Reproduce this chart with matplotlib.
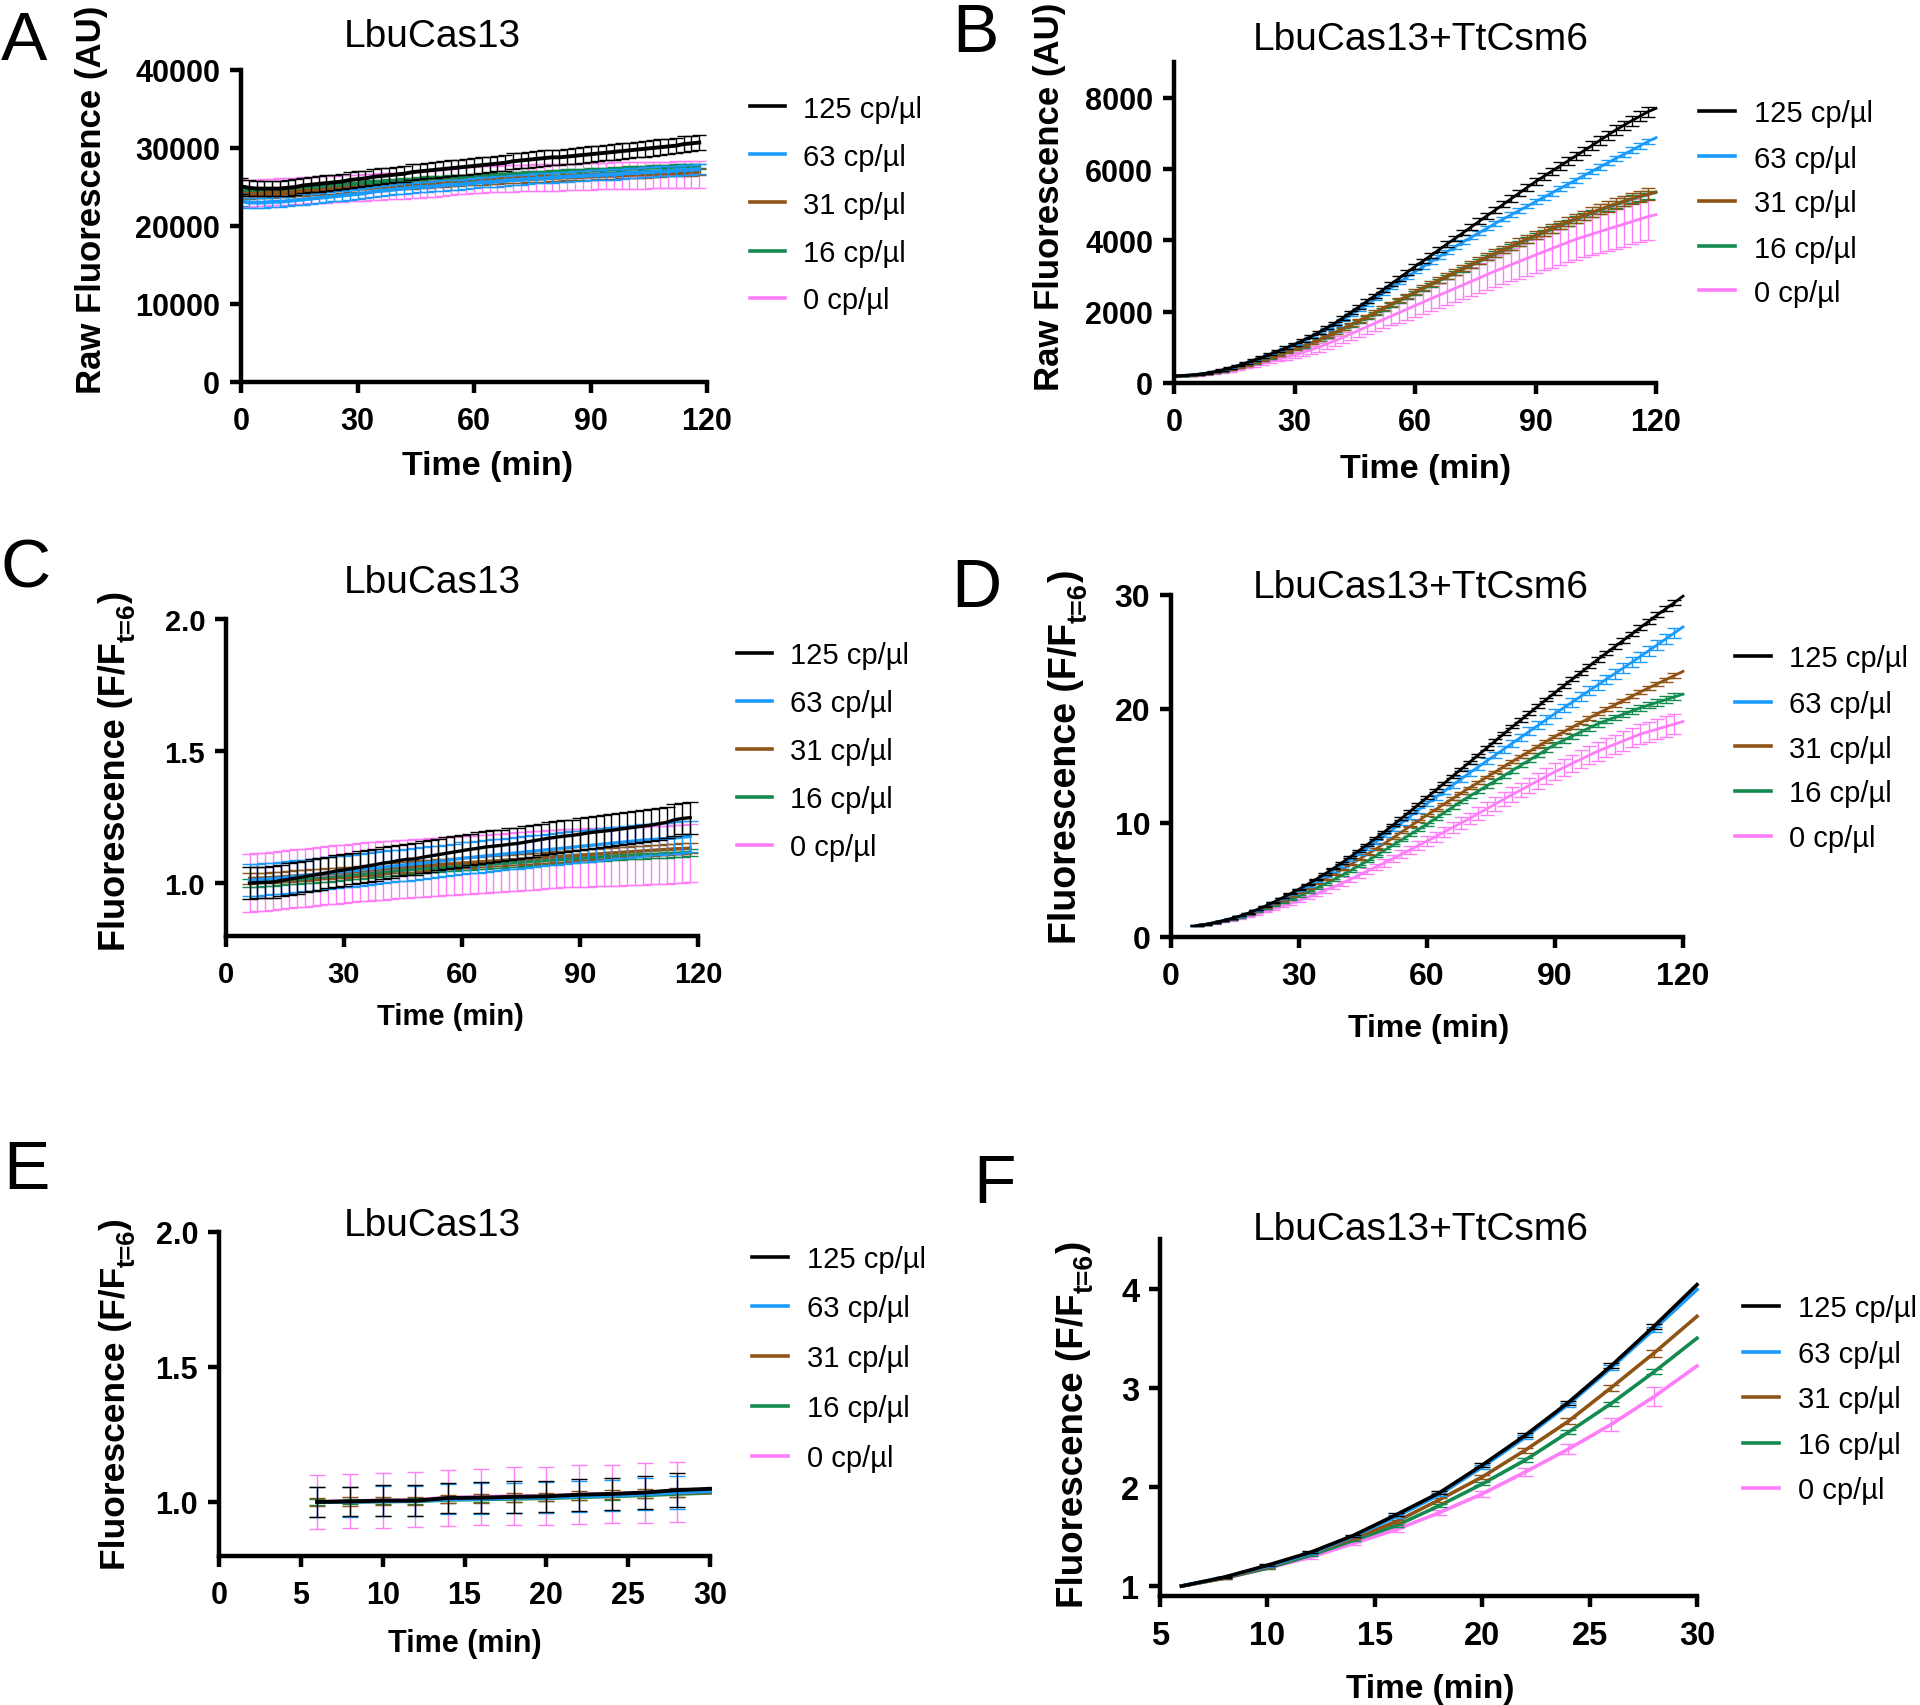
import numpy as np
import matplotlib
matplotlib.use('Agg')
from matplotlib import pyplot as plt
from matplotlib.lines import Line2D

# ---------------- data ----------------
labels = ['125 cp/µl', '63 cp/µl', '31 cp/µl', '16 cp/µl', '0 cp/µl']
colors = ['#000000', '#1A9BFC', '#8F5415', '#138A4F', '#FF7DF8']

# panel A: LbuCas13, raw fluorescence, every 2 min from 0 to 118
time_a = np.arange(0, 119, 2)
a_125 = [25100, 24900, 24800, 24800, 24800, 24800, 24900, 25000, 25200, 25300,
         25400, 25500, 25600, 25700, 25900, 26000, 26100, 26300, 26400, 26500,
         26600, 26700, 26900, 27000, 27100, 27200, 27300, 27400, 27500, 27600,
         27700, 27800, 27900, 28000, 28100, 28300, 28400, 28500, 28600, 28700,
         28800, 28800, 28900, 29000, 29100, 29200, 29300, 29400, 29500, 29600,
         29700, 29800, 29900, 30000, 30100, 30200, 30300, 30500, 30600, 30700]
a_63 = [23200, 23000, 23000, 23000, 23100, 23100, 23200, 23300, 23400, 23500,
        23600, 23700, 23800, 23900, 24000, 24100, 24200, 24400, 24500, 24600,
        24700, 24800, 24900, 25000, 25000, 25100, 25200, 25300, 25300, 25400,
        25500, 25600, 25600, 25700, 25800, 25900, 25900, 26000, 26100, 26100,
        26200, 26300, 26300, 26400, 26400, 26500, 26500, 26600, 26600, 26700,
        26800, 26800, 26900, 26900, 27000, 27000, 27100, 27200, 27200, 27300]
a_31 = [23900, 23900, 23950, 24000, 24050, 24100, 24150, 24200, 24300, 24350,
        24400, 24500, 24550, 24600, 24700, 24750, 24800, 24900, 24950, 25000,
        25100, 25150, 25200, 25250, 25300, 25400, 25450, 25500, 25550, 25600,
        25650, 25700, 25750, 25800, 25850, 25900, 25950, 26000, 26050, 26100,
        26150, 26200, 26250, 26250, 26300, 26350, 26400, 26450, 26450, 26500,
        26550, 26600, 26600, 26650, 26700, 26750, 26750, 26800, 26850, 26900]
a_16 = [24400, 24400, 24450, 24500, 24550, 24600, 24700, 24750, 24850, 24900,
        25000, 25100, 25150, 25250, 25300, 25400, 25450, 25550, 25600, 25700,
        25750, 25850, 25900, 26000, 26050, 26100, 26150, 26200, 26250, 26300,
        26350, 26400, 26450, 26500, 26550, 26600, 26650, 26700, 26750, 26800,
        26850, 26900, 26950, 27000, 27050, 27100, 27150, 27200, 27250, 27300,
        27350, 27400, 27450, 27500, 27500, 27550, 27600, 27600, 27650, 27700]
a_0 = [24200, 24200, 24250, 24300, 24350, 24400, 24450, 24500, 24550, 24600,
       24650, 24700, 24750, 24800, 24850, 24900, 24950, 25000, 25050, 25100,
       25150, 25200, 25250, 25350, 25400, 25450, 25550, 25650, 25750, 25850,
       25900, 25950, 26000, 26050, 26100, 26100, 26150, 26150, 26200, 26200,
       26250, 26250, 26300, 26300, 26350, 26350, 26400, 26400, 26450, 26450,
       26500, 26500, 26500, 26550, 26550, 26550, 26600, 26600, 26600, 26600]
a_err = [1000, 650, 400, 300, 1700]

# panel B: LbuCas13+TtCsm6, raw fluorescence, every 2 min from 0 to 120
time_b = np.arange(0, 121, 2)
b_125 = [200, 210, 225, 245, 275, 315, 365, 425, 490, 565,
         645, 720, 810, 900, 990, 1085, 1190, 1300, 1420, 1545,
         1675, 1825, 1980, 2130, 2290, 2450, 2610, 2770, 2935, 3100,
         3265, 3420, 3580, 3740, 3900, 4055, 4215, 4375, 4535, 4695,
         4850, 5010, 5170, 5330, 5490, 5645, 5790, 5935, 6080, 6220,
         6365, 6510, 6655, 6800, 6945, 7095, 7225, 7355, 7480, 7605,
         7700]
b_63 = [200, 210, 225, 245, 275, 315, 360, 420, 485, 560,
        640, 715, 800, 885, 975, 1070, 1170, 1275, 1385, 1505,
        1630, 1770, 1910, 2055, 2205, 2355, 2510, 2665, 2820, 2970,
        3120, 3260, 3400, 3540, 3680, 3820, 3955, 4085, 4215, 4345,
        4475, 4600, 4720, 4840, 4960, 5085, 5205, 5325, 5450, 5570,
        5690, 5815, 5935, 6055, 6175, 6300, 6410, 6530, 6650, 6770,
        6880]
b_31 = [190, 200, 215, 235, 260, 295, 335, 380, 435, 500,
        570, 640, 715, 790, 870, 950, 1035, 1125, 1220, 1320,
        1420, 1530, 1640, 1750, 1865, 1980, 2095, 2210, 2325, 2440,
        2555, 2670, 2785, 2895, 3005, 3115, 3225, 3330, 3435, 3540,
        3645, 3745, 3845, 3945, 4045, 4145, 4240, 4335, 4430, 4520,
        4610, 4700, 4785, 4870, 4950, 5030, 5100, 5170, 5240, 5300,
        5360]
b_16 = [190, 200, 214, 233, 257, 290, 330, 374, 428, 492,
        560, 630, 704, 778, 856, 936, 1020, 1108, 1202, 1300,
        1400, 1508, 1617, 1726, 1840, 1954, 2068, 2182, 2296, 2410,
        2524, 2638, 2752, 2862, 2972, 3082, 3192, 3298, 3404, 3510,
        3615, 3715, 3815, 3915, 4015, 4115, 4210, 4305, 4400, 4490,
        4580, 4670, 4755, 4840, 4920, 5000, 5075, 5150, 5220, 5280,
        5340]
b_0 = [185, 195, 205, 220, 245, 275, 310, 350, 395, 450,
       505, 560, 615, 670, 725, 785, 855, 925, 1000, 1090,
       1180, 1275, 1375, 1475, 1575, 1675, 1775, 1875, 1970, 2070,
       2170, 2265, 2365, 2460, 2560, 2655, 2750, 2850, 2945, 3045,
       3140, 3230, 3320, 3410, 3500, 3590, 3680, 3765, 3855, 3940,
       4030, 4100, 4170, 4245, 4315, 4385, 4455, 4525, 4595, 4665,
       4720]
b_125_err = [10, 10, 10, 12, 14, 16, 18, 20, 22, 24,
             26, 28, 30, 32, 34, 36, 38, 40, 42, 44,
             46, 48, 50, 52, 54, 56, 58, 60, 62, 64,
             66, 68, 70, 72, 74, 76, 78, 80, 82, 84,
             86, 88, 90, 92, 95, 98, 101, 104, 107, 110,
             113, 116, 119, 122, 126, 130, 134, 138, 142, 146,
             0]
b_63_err = [5, 5, 5, 6, 6, 7, 8, 9, 10, 11,
            12, 13, 14, 15, 16, 18, 20, 22, 24, 26,
            28, 30, 32, 34, 36, 38, 40, 42, 44, 46,
            48, 50, 52, 54, 55, 56, 57, 58, 59, 60,
            61, 62, 63, 64, 65, 66, 67, 68, 69, 70,
            71, 72, 73, 74, 75, 76, 77, 78, 79, 80,
            0]
b_31_err = [5, 5, 6, 7, 8, 9, 10, 12, 14, 16,
            18, 20, 22, 24, 26, 28, 30, 33, 36, 39,
            42, 45, 48, 51, 54, 57, 60, 63, 66, 69,
            72, 75, 78, 81, 84, 87, 90, 93, 96, 99,
            102, 105, 108, 111, 114, 117, 120, 123, 126, 129,
            132, 135, 138, 141, 144, 147, 150, 153, 156, 159,
            0]
b_16_err = [5, 5, 5, 6, 7, 8, 9, 10, 11, 12,
            14, 16, 18, 20, 22, 24, 26, 28, 30, 32,
            34, 36, 38, 40, 42, 44, 46, 48, 50, 52,
            54, 56, 58, 60, 62, 64, 66, 68, 70, 72,
            74, 76, 78, 80, 82, 84, 86, 88, 90, 92,
            94, 96, 98, 100, 102, 104, 106, 108, 110, 112,
            0]
b_0_err = [10, 10, 12, 14, 16, 20, 24, 28, 34, 40,
           46, 52, 58, 66, 74, 82, 92, 104, 118, 134,
           150, 166, 182, 198, 214, 230, 246, 262, 278, 294,
           310, 324, 338, 352, 366, 380, 394, 408, 422, 436,
           450, 462, 474, 486, 498, 510, 522, 534, 546, 558,
           570, 580, 590, 600, 610, 620, 628, 636, 644, 650,
           0]

# panel C: LbuCas13, normalised to t=6, every 2 min from 6 to 118
time_c = np.arange(6, 119, 2)
c_125 = [1.000, 1.002, 1.003, 1.004, 1.010, 1.015, 1.020, 1.025, 1.030, 1.035,
         1.040, 1.046, 1.050, 1.055, 1.060, 1.065, 1.070, 1.076, 1.080, 1.086,
         1.090, 1.092, 1.098, 1.103, 1.108, 1.113, 1.118, 1.123, 1.128, 1.132,
         1.137, 1.140, 1.143, 1.147, 1.150, 1.155, 1.160, 1.165, 1.170, 1.174,
         1.178, 1.181, 1.185, 1.190, 1.194, 1.197, 1.200, 1.204, 1.208, 1.212,
         1.216, 1.220, 1.225, 1.230, 1.240, 1.245, 1.248]
c_63 = [1.012, 1.013, 1.015, 1.018, 1.020, 1.023, 1.026, 1.029, 1.032, 1.035,
        1.038, 1.041, 1.044, 1.047, 1.050, 1.054, 1.057, 1.060, 1.064, 1.067,
        1.070, 1.073, 1.076, 1.079, 1.082, 1.086, 1.090, 1.094, 1.097, 1.100,
        1.103, 1.106, 1.109, 1.112, 1.115, 1.118, 1.121, 1.124, 1.127, 1.130,
        1.133, 1.136, 1.139, 1.142, 1.145, 1.148, 1.151, 1.154, 1.157, 1.160,
        1.163, 1.165, 1.167, 1.169, 1.171, 1.174, 1.177]
c_31 = [1.018, 1.019, 1.020, 1.022, 1.024, 1.026, 1.028, 1.030, 1.032, 1.034,
        1.036, 1.038, 1.040, 1.043, 1.046, 1.049, 1.052, 1.055, 1.058, 1.060,
        1.062, 1.064, 1.066, 1.068, 1.070, 1.072, 1.074, 1.076, 1.078, 1.080,
        1.082, 1.084, 1.086, 1.088, 1.090, 1.092, 1.094, 1.096, 1.098, 1.100,
        1.102, 1.104, 1.106, 1.108, 1.110, 1.112, 1.114, 1.116, 1.118, 1.120,
        1.122, 1.124, 1.126, 1.128, 1.130, 1.131, 1.133]
c_16 = [1.000, 1.002, 1.004, 1.006, 1.008, 1.010, 1.012, 1.014, 1.016, 1.018,
        1.020, 1.023, 1.026, 1.029, 1.032, 1.035, 1.038, 1.041, 1.044, 1.047,
        1.050, 1.052, 1.054, 1.056, 1.058, 1.060, 1.062, 1.064, 1.066, 1.068,
        1.070, 1.072, 1.074, 1.076, 1.078, 1.080, 1.082, 1.084, 1.086, 1.088,
        1.090, 1.092, 1.094, 1.096, 1.098, 1.100, 1.102, 1.104, 1.106, 1.107,
        1.108, 1.109, 1.110, 1.112, 1.113, 1.115, 1.116]
c_0 = [1.000, 1.003, 1.006, 1.009, 1.012, 1.015, 1.018, 1.021, 1.024, 1.027,
       1.030, 1.033, 1.036, 1.039, 1.042, 1.044, 1.046, 1.048, 1.050, 1.052,
       1.054, 1.056, 1.058, 1.060, 1.062, 1.064, 1.066, 1.068, 1.070, 1.072,
       1.074, 1.076, 1.078, 1.080, 1.082, 1.084, 1.086, 1.088, 1.090, 1.092,
       1.094, 1.095, 1.096, 1.097, 1.098, 1.099, 1.100, 1.101, 1.102, 1.103,
       1.104, 1.105, 1.106, 1.108, 1.110, 1.111, 1.113]
c_err = [0.06, 0.06, 0.02, 0.015, 0.11]

# panel D: LbuCas13+TtCsm6, normalised to t=6, every 2 min from 6 to 120
time_d = np.arange(6, 121, 2)
d_125 = [1.00, 1.10, 1.25, 1.42, 1.60, 1.82, 2.08, 2.38, 2.70, 3.05,
         3.42, 3.80, 4.20, 4.62, 5.06, 5.52, 6.00, 6.50, 7.02, 7.56,
         8.10, 8.66, 9.22, 9.80, 10.40, 11.00, 11.62, 12.24, 12.86, 13.48,
         14.10, 14.72, 15.34, 15.96, 16.58, 17.20, 17.82, 18.44, 19.04, 19.64,
         20.24, 20.84, 21.44, 22.02, 22.60, 23.18, 23.76, 24.34, 24.90, 25.46,
         26.02, 26.58, 27.14, 27.70, 28.26, 28.80, 29.34, 29.90]
d_63 = [1.00, 1.10, 1.25, 1.42, 1.60, 1.82, 2.07, 2.36, 2.67, 3.00,
        3.35, 3.72, 4.10, 4.50, 4.92, 5.36, 5.82, 6.30, 6.80, 7.30,
        7.82, 8.35, 8.90, 9.45, 10.01, 10.57, 11.13, 11.70, 12.24, 12.78,
        13.32, 13.86, 14.40, 14.92, 15.44, 15.96, 16.48, 17.00, 17.52, 18.04,
        18.56, 19.08, 19.60, 20.10, 20.60, 21.10, 21.60, 22.10, 22.60, 23.10,
        23.60, 24.10, 24.60, 25.12, 25.64, 26.16, 26.68, 27.20]
d_31 = [1.00, 1.10, 1.24, 1.40, 1.58, 1.78, 2.02, 2.30, 2.60, 2.90,
        3.22, 3.56, 3.90, 4.28, 4.68, 5.08, 5.48, 5.90, 6.34, 6.80,
        7.26, 7.72, 8.20, 8.70, 9.20, 9.70, 10.20, 10.70, 11.18, 11.66,
        12.14, 12.62, 13.10, 13.56, 14.02, 14.48, 14.94, 15.40, 15.84, 16.28,
        16.72, 17.16, 17.60, 18.00, 18.40, 18.80, 19.20, 19.60, 19.98, 20.36,
        20.74, 21.12, 21.50, 21.86, 22.22, 22.58, 22.94, 23.30]
d_16 = [1.00, 1.10, 1.23, 1.38, 1.55, 1.74, 1.96, 2.20, 2.46, 2.74,
        3.02, 3.30, 3.60, 3.94, 4.28, 4.64, 5.02, 5.40, 5.82, 6.24,
        6.66, 7.12, 7.60, 8.06, 8.52, 8.98, 9.44, 9.90, 10.40, 10.90,
        11.40, 11.90, 12.35, 12.80, 13.25, 13.70, 14.15, 14.60, 15.06, 15.52,
        15.98, 16.44, 16.90, 17.26, 17.62, 17.98, 18.34, 18.70, 18.98, 19.26,
        19.54, 19.82, 20.10, 20.34, 20.58, 20.82, 21.06, 21.30]
d_0 = [1.00, 1.09, 1.20, 1.33, 1.48, 1.64, 1.82, 2.02, 2.24, 2.48,
       2.72, 2.96, 3.20, 3.48, 3.78, 4.08, 4.38, 4.70, 5.06, 5.42,
       5.78, 6.14, 6.50, 6.88, 7.26, 7.64, 8.02, 8.40, 8.80, 9.20,
       9.60, 10.00, 10.40, 10.82, 11.24, 11.66, 12.08, 12.50, 12.90, 13.30,
       13.70, 14.10, 14.50, 14.86, 15.22, 15.58, 15.94, 16.30, 16.60, 16.90,
       17.20, 17.50, 17.80, 18.02, 18.24, 18.46, 18.68, 18.90]
d_125_err = [0.01, 0.01, 0.01, 0.01, 0.02, 0.02, 0.02, 0.03, 0.03, 0.03,
             0.04, 0.04, 0.05, 0.05, 0.05, 0.06, 0.06, 0.07, 0.07, 0.08,
             0.08, 0.08, 0.09, 0.09, 0.10, 0.10, 0.10, 0.11, 0.11, 0.12,
             0.12, 0.12, 0.13, 0.13, 0.14, 0.14, 0.14, 0.15, 0.15, 0.16,
             0.16, 0.16, 0.17, 0.17, 0.18, 0.18, 0.18, 0.19, 0.19, 0.20,
             0.20, 0.20, 0.21, 0.21, 0.22, 0.22, 0.22, 0.00]
d_63_err = [0.01, 0.01, 0.02, 0.02, 0.03, 0.03, 0.04, 0.04, 0.05, 0.05,
            0.06, 0.06, 0.07, 0.08, 0.09, 0.10, 0.11, 0.12, 0.13, 0.14,
            0.15, 0.16, 0.17, 0.18, 0.19, 0.20, 0.21, 0.22, 0.23, 0.24,
            0.25, 0.26, 0.27, 0.28, 0.29, 0.30, 0.31, 0.32, 0.33, 0.34,
            0.35, 0.36, 0.37, 0.38, 0.39, 0.40, 0.41, 0.42, 0.42, 0.43,
            0.43, 0.44, 0.44, 0.45, 0.45, 0.46, 0.46, 0.00]
d_31_err = [0.01, 0.01, 0.01, 0.01, 0.01, 0.02, 0.02, 0.02, 0.02, 0.03,
            0.03, 0.03, 0.04, 0.04, 0.04, 0.05, 0.05, 0.05, 0.06, 0.06,
            0.06, 0.07, 0.07, 0.07, 0.08, 0.08, 0.08, 0.09, 0.09, 0.09,
            0.10, 0.10, 0.10, 0.11, 0.11, 0.11, 0.12, 0.12, 0.12, 0.13,
            0.13, 0.13, 0.14, 0.14, 0.14, 0.15, 0.15, 0.15, 0.16, 0.16,
            0.16, 0.17, 0.17, 0.17, 0.18, 0.18, 0.18, 0.00]
d_16_err = [0.01, 0.01, 0.01, 0.02, 0.02, 0.03, 0.03, 0.04, 0.04, 0.05,
            0.05, 0.06, 0.06, 0.07, 0.07, 0.08, 0.08, 0.09, 0.09, 0.10,
            0.10, 0.11, 0.11, 0.12, 0.12, 0.13, 0.13, 0.14, 0.14, 0.15,
            0.15, 0.16, 0.16, 0.17, 0.17, 0.18, 0.18, 0.19, 0.19, 0.20,
            0.20, 0.21, 0.21, 0.22, 0.22, 0.23, 0.23, 0.24, 0.24, 0.25,
            0.26, 0.27, 0.28, 0.28, 0.29, 0.29, 0.30, 0.00]
d_0_err = [0.02, 0.02, 0.03, 0.03, 0.04, 0.05, 0.06, 0.07, 0.08, 0.09,
           0.10, 0.11, 0.12, 0.14, 0.16, 0.18, 0.20, 0.22, 0.24, 0.26,
           0.28, 0.30, 0.32, 0.34, 0.36, 0.38, 0.40, 0.42, 0.44, 0.46,
           0.48, 0.50, 0.52, 0.54, 0.56, 0.58, 0.60, 0.62, 0.64, 0.66,
           0.68, 0.70, 0.72, 0.74, 0.76, 0.78, 0.80, 0.82, 0.83, 0.84,
           0.85, 0.86, 0.87, 0.88, 0.89, 0.90, 0.90, 0.00]

# panel E: LbuCas13, first 30 min
time_e = np.arange(6, 31, 2)
e_125 = [1.000, 1.002, 1.005, 1.005, 1.015, 1.016, 1.019, 1.021, 1.027, 1.030, 1.035, 1.044, 1.049]
e_63 = [1.000, 1.001, 1.003, 1.004, 1.010, 1.012, 1.015, 1.017, 1.021, 1.024, 1.029, 1.035, 1.040]
e_31 = [1.000, 1.002, 1.004, 1.004, 1.012, 1.014, 1.016, 1.019, 1.024, 1.027, 1.031, 1.034, 1.036]
e_16 = [1.000, 1.001, 1.002, 1.003, 1.008, 1.010, 1.012, 1.014, 1.018, 1.021, 1.025, 1.030, 1.034]
e_0 = [1.000, 1.003, 1.006, 1.008, 1.016, 1.018, 1.022, 1.022, 1.028, 1.030, 1.033, 1.038, 1.040]
e_125_err = [0.055, 0.055, 0.057, 0.057, 0.057, 0.058, 0.058, 0.058, 0.059, 0.059, 0.060, 0.062, 0]
e_63_err = [0.055, 0.055, 0.056, 0.056, 0.056, 0.057, 0.057, 0.057, 0.058, 0.058, 0.059, 0.060, 0]
e_31_err = [0.015, 0.015, 0.015, 0.015, 0.015, 0.016, 0.016, 0.016, 0.016, 0.017, 0.017, 0.017, 0]
e_16_err = [0.010, 0.010, 0.010, 0.010, 0.010, 0.011, 0.011, 0.011, 0.011, 0.012, 0.012, 0.012, 0]
e_0_err = [0.100, 0.100, 0.102, 0.102, 0.104, 0.104, 0.106, 0.106, 0.108, 0.108, 0.110, 0.112, 0]

# panel F: LbuCas13+TtCsm6, first 30 min
time_f = np.arange(6, 31, 2)
f_125 = [1.00, 1.09, 1.21, 1.34, 1.51, 1.72, 1.94, 2.22, 2.52, 2.85, 3.22, 3.62, 4.04]
f_63 = [1.00, 1.09, 1.20, 1.33, 1.50, 1.70, 1.92, 2.20, 2.50, 2.83, 3.20, 3.59, 3.99]
f_31 = [1.00, 1.08, 1.19, 1.33, 1.48, 1.65, 1.87, 2.10, 2.37, 2.66, 3.00, 3.35, 3.72]
f_16 = [1.00, 1.08, 1.18, 1.31, 1.46, 1.61, 1.81, 2.03, 2.27, 2.55, 2.84, 3.16, 3.50]
f_0 = [1.00, 1.08, 1.18, 1.29, 1.43, 1.57, 1.74, 1.93, 2.15, 2.38, 2.63, 2.91, 3.22]
f_125_err = [0, 0.005, 0.01, 0.01, 0.01, 0.015, 0.015, 0.02, 0.02, 0.02, 0.025, 0.025, 0]
f_63_err = [0, 0.005, 0.01, 0.01, 0.01, 0.015, 0.015, 0.02, 0.02, 0.02, 0.025, 0.025, 0]
f_31_err = [0, 0.005, 0.01, 0.01, 0.01, 0.015, 0.02, 0.02, 0.025, 0.03, 0.03, 0.035, 0]
f_16_err = [0, 0.005, 0.005, 0.01, 0.01, 0.01, 0.015, 0.015, 0.02, 0.02, 0.02, 0.025, 0]
f_0_err = [0, 0.01, 0.01, 0.015, 0.015, 0.02, 0.025, 0.03, 0.04, 0.05, 0.07, 0.095, 0]

# tick labels
xt_120 = [0, 30, 60, 90, 120]
yt_a = [0, 10000, 20000, 30000, 40000]
yt_b = [0, 2000, 4000, 6000, 8000]
yt_ce = [1.0, 1.5, 2.0]
yt_ce_lab = ['1.0', '1.5', '2.0']
yt_d = [0, 10, 20, 30]
xt_e = [0, 5, 10, 15, 20, 25, 30]
xt_f = [5, 10, 15, 20, 25, 30]
yt_f = [1, 2, 3, 4]

# ---------------- drawing ----------------
plt.rcParams['font.family'] = ['Liberation Sans', 'DejaVu Sans']

W, H = 1920, 1706
fig = plt.figure(figsize=(W / 100, H / 100), dpi=100)
renderer = fig.canvas.get_renderer()


def put(x, y, s, **kw):
    # place text using pixel coordinates measured from the top-left corner
    return fig.text(x / W, 1 - y / H, s, **kw)


def text_len(s, size):
    t = fig.text(0, 0, s, fontsize=size, fontweight='bold')
    w = t.get_window_extent(renderer).width
    t.remove()
    return w


def norm_ylabel(x_base, y_mid, size):
    # "Fluorescence (F/F" + subscript "t=6" + ")" written bottom-to-top
    parts = ['Fluorescence (F/F', 't=6', ')']
    sizes = [size, size * 0.72, size]
    shift = [0, size * 0.38, 0]
    lens = [text_len(p, s) for p, s in zip(parts, sizes)]
    y = y_mid + sum(lens) / 2
    for p, s, dx, ln in zip(parts, sizes, shift, lens):
        put(x_base + dx, y, p, fontsize=s, fontweight='bold', rotation=90,
            rotation_mode='anchor', ha='left', va='baseline')
        y -= ln


def panel(box, time, series, errs, xlim, ylim, xticks, yticks, ylabels=None,
          lw=2.4, cap=5, tick_size=22):
    left, top, right, bottom = box
    ax = fig.add_axes([left / W, 1 - bottom / H, (right - left) / W, (bottom - top) / H])
    # draw 0 cp/ul first so the 125 cp/ul curve ends up on top
    for vals, err, color in reversed(list(zip(series, errs, colors))):
        vals = np.asarray(vals, float)
        err = np.broadcast_to(np.asarray(err, float), vals.shape)
        ax.plot(time, vals, color=color, lw=lw, clip_on=False)
        has = err > 0
        ax.errorbar(time[has], vals[has], yerr=err[has], fmt='none', ecolor=color,
                    elinewidth=1.0, capsize=cap, capthick=1.0)
    ax.set_xlim(xlim)
    ax.set_ylim(ylim)
    for side in ['top', 'right']:
        ax.spines[side].set_visible(False)
    for side in ['left', 'bottom']:
        ax.spines[side].set_linewidth(3.2)
        ax.spines[side].set_capstyle('projecting')
    ax.set_xticks(xticks, labels=[str(t) for t in xticks], fontweight='bold', fontsize=tick_size)
    if ylabels is None:
        ylabels = [str(t) for t in yticks]
    ax.set_yticks(yticks, labels=ylabels, fontweight='bold', fontsize=tick_size)
    ax.tick_params(direction='out', length=8, width=3.2, pad=7)
    ax.tick_params(axis='x', pad=9)
    return ax


def legend(x0, x1, xt, rows):
    for lab, col, y in zip(labels, colors, rows):
        fig.add_artist(Line2D([x0 / W, x1 / W], [1 - y / H, 1 - y / H], color=col, lw=2.6))
        put(xt, y + 10.5, lab, fontsize=21, va='baseline', ha='left')


raw_label = 'Raw Fluorescence (AU)'

# A
panel((241, 71, 707, 383), time_a, [a_125, a_63, a_31, a_16, a_0], a_err,
      (0, 120), (0, 40000), xt_120, yt_a, lw=2.8, cap=5)
put(24, 60, 'A', fontsize=50, ha='center', va='baseline')
put(432, 47, 'LbuCas13', fontsize=28, ha='center', va='baseline')
put(92, 200, raw_label, fontsize=25, fontweight='bold', rotation=90, ha='center', va='center')
put(488, 475, 'Time (min)', fontsize=24.5, fontweight='bold', ha='center', va='baseline')
legend(750, 785, 803, [107, 155, 203, 252, 299])

# B
panel((1174, 63, 1656, 384), time_b, [b_125, b_63, b_31, b_16, b_0],
      [b_125_err, b_63_err, b_31_err, b_16_err, b_0_err],
      (0, 120), (0, 9000), xt_120, yt_b, lw=2.0, cap=5)
put(975, 52, 'B', fontsize=50, ha='center', va='baseline')
put(1421, 50, 'LbuCas13+TtCsm6', fontsize=28, ha='center', va='baseline')
put(1050, 197, raw_label, fontsize=25, fontweight='bold', rotation=90, ha='center', va='center')
put(1426, 478, 'Time (min)', fontsize=24.5, fontweight='bold', ha='center', va='baseline')
legend(1699, 1735, 1754, [112, 157, 202, 247, 291])

# C
panel((226, 620, 698, 937), time_c, [c_125, c_63, c_31, c_16, c_0], c_err,
      (0, 120), (0.8, 2.0), xt_120, yt_ce, yt_ce_lab, lw=2.4, cap=6, tick_size=21)
put(26, 587, 'C', fontsize=50, ha='center', va='baseline')
put(432, 593, 'LbuCas13', fontsize=28, ha='center', va='baseline')
norm_ylabel(125, 771, 26)
put(450, 1025, 'Time (min)', fontsize=21, fontweight='bold', ha='center', va='baseline')
legend(737, 772, 790, [654, 702, 750, 798, 846])

# D
panel((1171, 596, 1683, 938), time_d, [d_125, d_63, d_31, d_16, d_0],
      [d_125_err, d_63_err, d_31_err, d_16_err, d_0_err],
      (0, 120), (0, 30), xt_120, yt_d, lw=2.0, cap=5, tick_size=23)
put(976, 607, 'D', fontsize=50, ha='center', va='baseline')
put(1421, 598, 'LbuCas13+TtCsm6', fontsize=28, ha='center', va='baseline')
norm_ylabel(1076, 757, 27)
put(1429, 1037, 'Time (min)', fontsize=23, fontweight='bold', ha='center', va='baseline')
legend(1735, 1771, 1789, [657, 703, 747, 792, 837])

# E
panel((219, 1233, 710, 1557), time_e, [e_125, e_63, e_31, e_16, e_0],
      [e_125_err, e_63_err, e_31_err, e_16_err, e_0_err],
      (0, 30), (0.8, 2.0), xt_e, yt_ce, yt_ce_lab, lw=2.8, cap=6, tick_size=22)
put(26, 1189, 'E', fontsize=50, ha='center', va='baseline')
put(432, 1236, 'LbuCas13', fontsize=28, ha='center', va='baseline')
norm_ylabel(125, 1394, 25.5)
put(465, 1652, 'Time (min)', fontsize=22, fontweight='bold', ha='center', va='baseline')
legend(752, 788, 807, [1258, 1307, 1357, 1407, 1457])

# F
panel((1160, 1240, 1697, 1597), time_f, [f_125, f_63, f_31, f_16, f_0],
      [f_125_err, f_63_err, f_31_err, f_16_err, f_0_err],
      (5, 30), (0.9, 4.5), xt_f, yt_f, lw=2.6, cap=6, tick_size=23.5)
put(995, 1203, 'F', fontsize=50, ha='center', va='baseline')
put(1421, 1240, 'LbuCas13+TtCsm6', fontsize=28, ha='center', va='baseline')
norm_ylabel(1083, 1425, 26.5)
put(1430, 1698, 'Time (min)', fontsize=24, fontweight='bold', ha='center', va='baseline')
legend(1743, 1779, 1798, [1307, 1353, 1398, 1444, 1489])

fig.savefig('out.png', dpi=100)
